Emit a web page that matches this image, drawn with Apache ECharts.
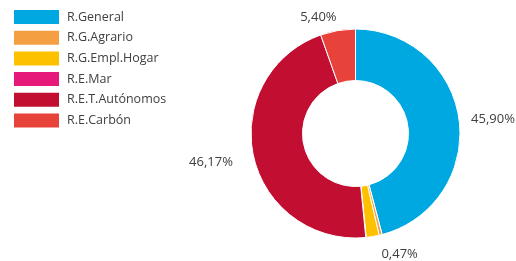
<!DOCTYPE html>
<html><head><meta charset="utf-8">
<script src="https://cdn.jsdelivr.net/npm/echarts@6/dist/echarts.min.js"></script>
<style>html,body{margin:0;padding:0;background:#fff}#c{width:516px;height:261px}</style>
</head><body><div id="c"></div>
<script>
const categories = ['R.General','R.G.Agrario','R.G.Empl.Hogar','R.E.Mar','R.E.T.Autónomos','R.E.Carbón'];
const values = [45.90, 0.47, 2.00, 0.06, 46.17, 5.40];
const labelShown = [true, true, false, false, true, true];
const colors = ['#00A8E1','#F4A042','#FDC100','#E6197A','#C20E30','#E8433A'];
// label placement tweaks (style only)
const labelLen = [7, 20, 10, 10, 16, 13.6];
const labelOff = [[0,0],[-9,0],[0,0],[0,0],[0,3],[6,0]];

const chart = echarts.init(document.getElementById('c'), null, {renderer:'canvas'});
const fmt = v => v.toFixed(2).replace('.', ',') + '%';
chart.setOption({
  animation:false,
  color: colors,
  legend: {
    orient:'vertical', left:14, top:10, padding:0,
    itemWidth:45, itemHeight:14, itemGap:6.7,
    icon:'rect',
    itemStyle:{borderWidth:0},
    textStyle:{fontFamily:'Open Sans', fontSize:12.5, color:'#404040', padding:[0,0,0,3]},
    data: categories
  },
  series:[{
    type:'pie',
    center:[355.5,133.5],
    radius:[53,104.5],
    startAngle:90,
    clockwise:true,
    avoidLabelOverlap:false,
    itemStyle:{borderColor:'#fff', borderWidth:1},
    label:{
      show:true, position:'outside',
      fontFamily:'Open Sans', fontSize:13, color:'#404040',
      formatter: p => fmt(p.value)
    },
    labelLine:{show:false, length:8, length2:0},
    data: categories.map((c,i)=>({
      name:c, value:values[i],
      label:{show:labelShown[i], offset:labelOff[i]},
      labelLine:{show:false, length:labelLen[i], length2:0}
    }))
  }]
});
</script></body></html>
